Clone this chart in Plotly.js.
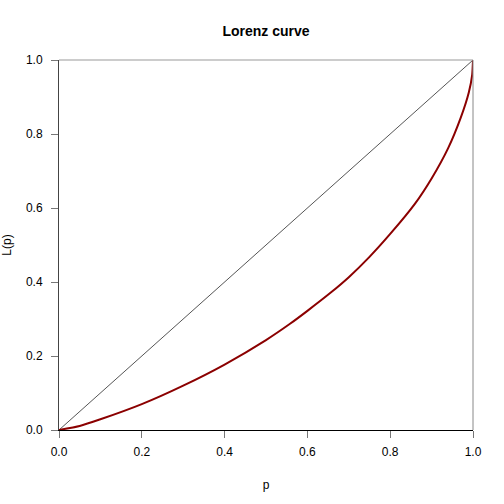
<!DOCTYPE html>
<html>
<head>
<meta charset="utf-8">
<script src="https://cdn.plot.ly/plotly-3.0.1.min.js"></script>
<style>html,body{margin:0;padding:0;background:#fff;}#chart{width:504px;height:504px;}</style>
</head>
<body>
<div id="chart"></div>
<script>
// Lorenz curve values
const p  = [0, 0.05, 0.1, 0.2, 0.3, 0.4, 0.5, 0.558, 0.6, 0.655, 0.7, 0.75, 0.8, 0.86, 0.9, 0.94, 0.97, 0.99, 0.998, 1];
const Lp = [0, 0.011, 0.029, 0.07, 0.12, 0.177, 0.243, 0.287, 0.322, 0.37, 0.413, 0.468, 0.53, 0.612, 0.68, 0.762, 0.843, 0.913, 0.96, 1];
// line of equality
const eqX = [0, 1];
const eqY = [0, 1];
const tickVals = [0, 0.2, 0.4, 0.6, 0.8, 1.0];
const tickText = ["0.0", "0.2", "0.4", "0.6", "0.8", "1.0"];

const font = "Liberation Sans, Arial, Helvetica, sans-serif";

const traces = [
  {x: eqX, y: eqY, mode: "lines", line: {color: "#555555", width: 1}, hoverinfo: "skip"},
  {x: p, y: Lp, mode: "lines", line: {color: "#8B0000", width: 2, shape: "spline", smoothing: 0.5}, hoverinfo: "skip"}
];

const layout = {
  width: 504, height: 504,
  margin: {l: 59, r: 31, t: 60, b: 74, pad: 0},
  paper_bgcolor: "#ffffff", plot_bgcolor: "#ffffff",
  showlegend: false,
  font: {family: font, size: 12, color: "#000"},
  title: {text: "<b>Lorenz curve</b>", font: {family: font, size: 14, color: "#000"}, x: 0.5, xanchor: "center", y: 1 - 31/504, yanchor: "middle", xref: "paper"},
  xaxis: {
    range: [0, 1], showgrid: false, zeroline: false,
    showline: true, linecolor: "#000", linewidth: 1,
    ticks: "outside", ticklen: 7, tickcolor: "#777", tickwidth: 1,
    tickvals: tickVals, ticktext: tickText,
    tickfont: {family: font, size: 12, color: "#000"},
    ticklabelstandoff: 4,
    title: {text: "p", font: {family: font, size: 12, color: "#000"}, standoff: 22}
  },
  yaxis: {
    range: [0, 1], showgrid: false, zeroline: false,
    showline: true, linecolor: "#444", linewidth: 1,
    ticks: "outside", ticklen: 7, tickcolor: "#777", tickwidth: 1,
    tickvals: tickVals, ticktext: tickText,
    tickfont: {family: font, size: 12, color: "#000"},
    ticklabelstandoff: 6,
    title: {text: "L(p)", font: {family: font, size: 12, color: "#000"}, standoff: 16}
  },
  shapes: [
    {type: "line", xref: "paper", yref: "paper", x0: 0, x1: 1, y0: 1, y1: 1, line: {color: "#999999", width: 1}},
    {type: "line", xref: "paper", yref: "paper", x0: 1, x1: 1, y0: 0, y1: 1, line: {color: "#888888", width: 1}}
  ]
};

Plotly.newPlot("chart", traces, layout, {staticPlot: true, displayModeBar: false});
</script>
</body>
</html>
